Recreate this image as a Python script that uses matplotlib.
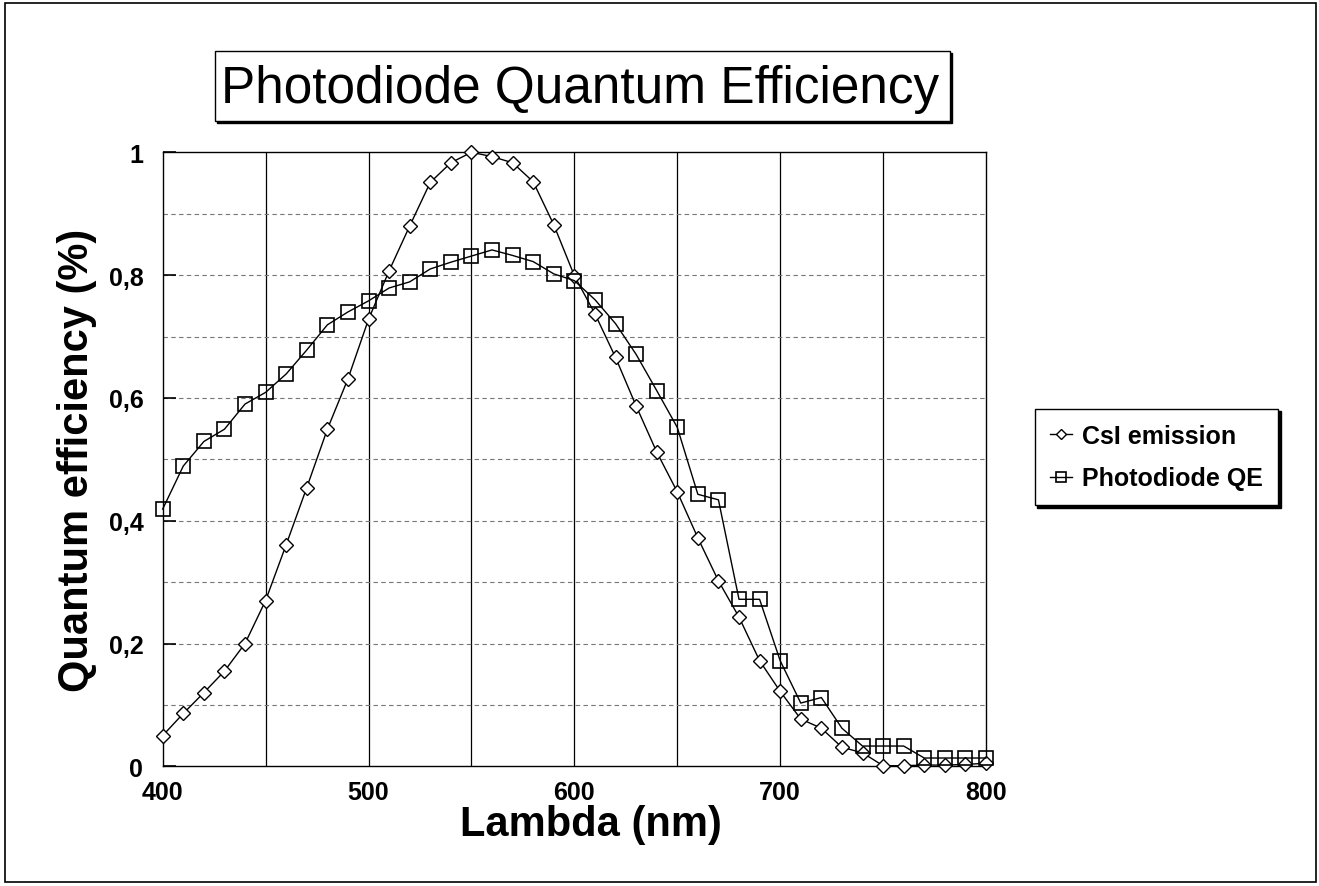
# photodiode quantum efficiency vs CsI emission spectrum
import matplotlib
matplotlib.use("Agg")
import matplotlib.pyplot as plt
from matplotlib.patches import Rectangle
from matplotlib.ticker import MultipleLocator, FuncFormatter

# wavelength in nm, 10 nm steps
lam = list(range(400, 801, 10))

csi_emission = [0.050, 0.086, 0.120, 0.155, 0.200, 0.270, 0.361, 0.454, 0.549, 0.631,
                0.728, 0.807, 0.880, 0.951, 0.983, 1.000, 0.993, 0.983, 0.952, 0.882,
                0.799, 0.737, 0.666, 0.587, 0.512, 0.447, 0.372, 0.302, 0.243, 0.172,
                0.122, 0.077, 0.062, 0.031, 0.022, 0.001, 0.001, 0.002, 0.002, 0.003,
                0.005]

photodiode_qe = [0.419, 0.489, 0.529, 0.549, 0.590, 0.609, 0.639, 0.678, 0.719, 0.740,
                 0.758, 0.779, 0.789, 0.810, 0.821, 0.831, 0.841, 0.832, 0.822, 0.802,
                 0.791, 0.760, 0.721, 0.671, 0.612, 0.552, 0.443, 0.434, 0.272, 0.272,
                 0.172, 0.103, 0.112, 0.062, 0.033, 0.033, 0.033, 0.0135, 0.0135, 0.0135,
                 0.0135]

plt.rcParams['font.family'] = ['Liberation Sans', 'DejaVu Sans']

W, H = 1319, 887
fig = plt.figure(figsize=(W / 100, H / 100), dpi=100)

def px(x0, y0, x1, y1):
    # pixel box (from top-left) -> figure fraction rect
    return (x0 / W, 1 - y1 / H, (x1 - x0) / W, (y1 - y0) / H)

# outer frame round the whole page
fig.patches.append(Rectangle((5 / W, 4 / H), (W - 8) / W, (H - 8) / H,
                             transform=fig.transFigure, fill=False,
                             edgecolor='black', lw=1.2))

ax = fig.add_axes(px(162.7, 153.3, 986, 767.3))

ax.plot(lam, csi_emission, color='black', lw=1.0, marker='D', markersize=7.5,
        markerfacecolor='white', markeredgecolor='black', markeredgewidth=1.0,
        label='CsI emission', zorder=3, clip_on=False)
ax.plot(lam, photodiode_qe, color='black', lw=1.0, marker='s', markersize=10,
        markerfacecolor='none', markeredgecolor='black', markeredgewidth=1.2,
        label='Photodiode QE', zorder=4, clip_on=False)

ax.set_xlim(400, 800)
ax.set_ylim(0, 1)
ax.xaxis.set_major_locator(MultipleLocator(100))
ax.yaxis.set_major_locator(MultipleLocator(0.2))
ax.yaxis.set_major_formatter(FuncFormatter(lambda v, p: ('%g' % round(v, 1)).replace('.', ',')))

# vertical solid lines every 50 nm, dotted horizontal lines every 0.1
for xv in range(450, 800, 50):
    ax.axvline(xv, color='black', lw=0.9, zorder=1)
for k in range(1, 10):
    ax.axhline(k / 10, color='#777777', lw=0.8, ls=(0, (4, 3)), zorder=1)

ax.tick_params(axis='y', direction='in', length=9, width=1.2, pad=14, labelsize=18)
ax.tick_params(axis='x', length=0, pad=10, labelsize=18)
for lab in ax.get_xticklabels() + ax.get_yticklabels():
    lab.set_fontweight('bold')
for s in ax.spines.values():
    s.set_linewidth(1.0)

ax.set_xlabel('Lambda (nm)', fontsize=30, fontweight='bold', labelpad=0, x=0.52)
ax.set_ylabel('Quantum efficiency (%)', fontsize=30, fontweight='bold', labelpad=8)

# title box with a dark drop shadow
fig.patches.append(Rectangle(px(217, 54, 952, 124)[:2], *px(217, 54, 952, 124)[2:],
                             transform=fig.transFigure, color='black', zorder=1))
fig.patches.append(Rectangle(px(215, 52, 950, 122)[:2], *px(215, 52, 950, 122)[2:],
                             transform=fig.transFigure, facecolor='white',
                             edgecolor='black', lw=1.0, zorder=2))
fig.text(580 / W, 1 - 90 / H, 'Photodiode Quantum Efficiency', fontsize=37,
         ha='center', va='center', zorder=3)

leg = ax.legend(loc='center left', bbox_to_anchor=(1022 / W, 1 - 458 / H),
                bbox_transform=fig.transFigure, frameon=True, fancybox=False,
                shadow={'color': 'black', 'alpha': 1}, edgecolor='black',
                prop={'weight': 'bold', 'size': 18}, handlelength=0.9,
                markerscale=0.65, labelspacing=0.75, borderpad=0.6, handletextpad=0.4)
leg.get_frame().set_linewidth(1.0)

fig.savefig('out.png', dpi=100)
